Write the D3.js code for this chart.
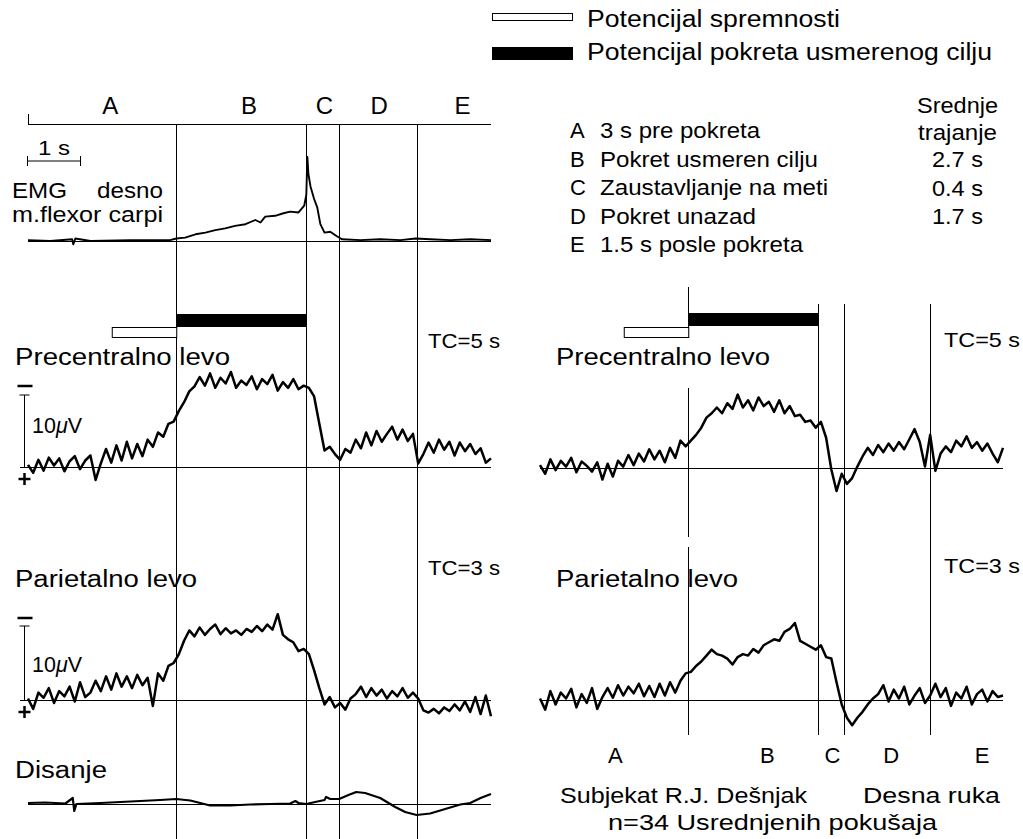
<!DOCTYPE html>
<html>
<head>
<meta charset="utf-8">
<script src="https://cdn.jsdelivr.net/npm/d3@7/dist/d3.min.js"></script>
<style>
    body { margin: 0; background: #fff; }
    svg text { font-family: "Liberation Sans", Arial, sans-serif; fill: #000; }
</style>
</head>
<body>
<svg id="fig" width="1023" height="839"></svg>
<script>
// ======== Data ========
// EEG traces sampled every 0.1 s from -2.85 s to 6.05 s (0 = start of movement), values in uV (negative up)
const t_start = -2.85;
const t_step = 0.1;

const phase_labels = ['A', 'B', 'C', 'D', 'E'];
const phase_label_t_left = [-1.27, 1.40, 2.85, 3.90, 5.50];
const phase_label_t_right = [-1.40, 1.52, 2.77, 3.90, 5.65];

const events_left = [0, 2.5, 3.13, 4.62];
const events_right = [0, 2.5, 3.0, 4.65];

const readiness_bar = [-1.24, 0];   // Potencijal spremnosti
const goal_bar = [0, 2.5];          // Potencijal pokreta usmerenog cilju

const precentral_left = [
    0.3, -0.8, 1.0, -0.5, 1.3, 0.2, 1.2, -0.6, 0.8, 1.5,
    -0.3, 0.9, 1.6, -1.8, 0.5, 2.5, 0.6, 3.0, 0.9, 3.5,
    1.2, 3.2, 1.5, 3.8, 2.8, 4.8, 4.2, 6.0, 6.3, 7.8,
    9.0, 10.5, 11.2, 12.5, 11.3, 13.0, 11.0, 12.4, 11.6, 13.2,
    11.0, 12.0, 11.4, 12.6, 10.8, 12.2, 11.5, 12.8, 10.6, 11.8,
    11.0, 12.2, 10.8, 11.3, 11.0, 9.8, 6.0, 2.3, 2.8, 1.8,
    1.0, 2.5, 2.0, 3.8, 2.6, 4.8, 3.0, 5.0, 3.5, 4.6,
    5.6, 3.8, 5.2, 3.6, 4.6, 0.5, 1.8, 3.4, 2.0, 3.8,
    2.4, 3.5, 1.6, 3.4, 2.2, 3.2, 1.8, 2.6, 0.6, 1.2
];

const parietal_left = [
    0.2, -1.2, 1.0, 0.3, 1.6, -0.4, 1.2, 0.5, 1.8, -0.2,
    2.4, 0.4, 1.0, 2.6, 1.2, 3.2, 1.4, 3.6, 1.8, 3.2,
    1.6, 3.4, 2.0, 3.0, -0.8, 3.6, 2.6, 4.6, 5.0, 6.2,
    8.0, 9.4, 8.6, 9.8, 8.8, 9.6, 10.2, 8.9, 9.7, 9.0,
    9.4, 8.8, 9.6, 9.2, 10.0, 9.3, 10.2, 9.5, 11.6, 8.8,
    8.2, 7.8, 6.6, 6.9, 6.2, 4.0, 1.6, -0.6, 0.4, -1.0,
    -0.4, -1.3, 0.2, 0.8, 1.8, 0.4, 1.6, 0.6, 1.4, 0.2,
    1.2, 0.5, 1.6, 0.3, 1.0, 0.2, -1.4, -1.7, -1.2, -1.8,
    -1.0, -1.5, -0.6, -1.4, -0.2, -1.6, 0.4, -1.9, 0.6, -2.2
];

const precentral_right = [
    0.4, -0.8, 1.2, -0.3, 1.0, 0.2, 1.4, -0.6, 0.9, 0.3,
    -0.5, 0.8, -1.6, 0.6, -1.2, 1.0, 0.2, 1.8, 0.4, 2.0,
    0.9, 2.6, 1.2, 2.4, 0.8, 2.8, 1.4, 3.8, 3.0, 3.8,
    4.6, 5.6, 7.0, 7.6, 8.4, 7.6, 9.0, 8.2, 10.2, 8.4,
    9.4, 8.0, 9.8, 8.6, 9.2, 7.8, 9.4, 7.6, 8.6, 7.2,
    7.4, 6.4, 6.6, 5.6, 6.4, 4.2, -0.2, -3.2, -0.8, -2.2,
    -1.4, 0.2, 1.6, 2.8, 1.8, 3.2, 2.2, 3.4, 2.4, 3.6,
    2.6, 4.0, 5.4, 3.6, 0.2, 4.6, -0.4, 2.0, 3.0, 2.2,
    3.8, 3.0, 4.4, 2.8, 3.6, 2.4, 3.4, 2.0, 0.8, 2.8
];

const parietal_right = [
    0.2, -1.3, 1.2, -0.6, 1.0, 0.2, 1.5, -1.0, 0.8, -0.4,
    1.6, -1.2, 0.4, 1.6, 0.3, 2.0, 0.6, 1.8, 0.9, 2.2,
    0.5, 1.9, 0.4, 2.2, 0.6, 2.4, 1.0, 2.6, 3.6, 3.8,
    4.6, 5.2, 6.0, 6.8, 6.2, 6.0, 5.6, 4.8, 5.8, 6.2,
    6.0, 6.9, 6.4, 7.4, 7.8, 8.2, 8.0, 9.2, 9.6, 10.4,
    8.0, 7.6, 7.2, 6.8, 7.4, 5.8, 5.6, 2.4, -0.6, -2.4,
    -3.4, -2.4, -1.6, -0.6, 0.2, 0.8, 2.0, -0.2, 1.4, 0.2,
    1.8, -0.6, 0.6, 1.6, -0.4, 0.6, 2.2, 0.4, 1.6, -0.8,
    1.0, 0.2, 1.8, -0.6, 0.8, 1.4, -0.2, 1.2, 0.4, 0.6
];

// EMG (relative amplitude, % of peak) and respiration (arbitrary units), irregular sampling
const emg_t = [-2.85, -2.42, -2.0, -1.98, -1.94, -1.65, -0.88, -0.12, 0, 0.17,
    0.37, 0.56, 0.75, 0.94, 1.13, 1.33, 1.52, 1.62, 1.71, 1.9,
    2.06, 2.19, 2.35, 2.46, 2.5, 2.52, 2.54, 2.58, 2.65, 2.71,
    2.77, 2.85, 2.96, 3.08, 3.19, 3.54, 3.92, 4.31, 4.6, 4.88,
    5.27, 5.65, 6.05];
const emg_v = [1, 0, 2, -4, 3, 0, 1, 1, 3, 4,
    8, 10, 13, 15, 18, 20, 25, 22, 29, 30,
    33, 35, 34, 42, 55, 100, 80, 65, 50, 40,
    20, 10, 11, 6, 2, 1, 2, 1, 3, 2,
    1, 2, 1];

const resp_t = [-2.85, -2.52, -2.13, -1.99, -1.96, -1.92, -1.46, -0.88, -0.31, 0,
    0.27, 0.65, 1.04, 1.42, 1.81, 2.19, 2.29, 2.35, 2.5, 2.67,
    2.85, 2.88, 2.96, 3.13, 3.31, 3.46, 3.63, 3.92, 4.21, 4.4,
    4.62, 4.88, 5.17, 5.46, 5.65, 5.77, 5.85, 6.05];
const resp_v = [1, 1.5, 0.5, 6, -7, 0, 1, 2.5, 4, 5,
    3.5, -1.5, -1.5, -0.5, 0, 0.5, 3, 1, 0, 2,
    4, 7, 5, 5, 9, 12, 11, 6, -3, -8,
    -11, -9.5, -5, -0.5, 1, 4, 6, 10];

const durations = ['2.7 s', '0.4 s', '1.7 s'];
const phase_desc = ['3 s pre pokreta', 'Pokret usmeren cilju', 'Zaustavljanje na meti',
    'Pokret unazad', '1.5 s posle pokreta'];

// ======== Setup ========
const svg = d3.select('#fig');

const x_left = d3.scaleLinear().domain([-2.85, 6.05]).range([28, 491]);
const x_right = d3.scaleLinear().domain([-2.85, 6.05]).range([540, 1003]);

const y_emg = d3.scaleLinear().domain([0, 100]).range([241, 157]);
const y_pre_l = d3.scaleLinear().domain([0, 10]).range([467, 395]);
const y_par_l = d3.scaleLinear().domain([0, 10]).range([700, 626]);
const y_resp = d3.scaleLinear().domain([0, 10]).range([804, 794]);
const y_pre_r = d3.scaleLinear().domain([0, 10]).range([468, 396]);
const y_par_r = d3.scaleLinear().domain([0, 10]).range([700, 626]);

function label(x, y, txt, size, len, anchor) {
    let t = svg.append('text')
        .attr('x', x)
        .attr('y', y)
        .attr('font-size', size)
        .attr('text-anchor', anchor || 'start')
        .text(txt);
    if (len) {
        t.attr('textLength', len).attr('lengthAdjust', 'spacingAndGlyphs');
    }
    return t;
}

function hline(x1, x2, y, w) {
    svg.append('line')
        .attr('x1', x1).attr('x2', x2)
        .attr('y1', y).attr('y2', y)
        .attr('stroke', '#000')
        .attr('stroke-width', w || 1);
}

function vline(x, y1, y2, w) {
    svg.append('line')
        .attr('x1', x).attr('x2', x)
        .attr('y1', y1).attr('y2', y2)
        .attr('stroke', '#000')
        .attr('stroke-width', w || 1);
}

function draw_trace(values, x, y, w) {
    let line = d3.line()
        .x(function (d, i) { return x(t_start + i * t_step); })
        .y(function (d) { return y(d); });
    svg.append('path')
        .datum(values)
        .attr('d', line)
        .attr('fill', 'none')
        .attr('stroke', '#000')
        .attr('stroke-width', w)
        .attr('stroke-linejoin', 'round');
}

function draw_trace_xy(ts, vs, x, y, w) {
    let line = d3.line()
        .x(function (d) { return x(d[0]); })
        .y(function (d) { return y(d[1]); });
    svg.append('path')
        .datum(d3.zip(ts, vs))
        .attr('d', line)
        .attr('fill', 'none')
        .attr('stroke', '#000')
        .attr('stroke-width', w)
        .attr('stroke-linejoin', 'round');
}

function bars(x, y_goal, y_ready) {
    svg.append('rect')
        .attr('x', x(readiness_bar[0]) + 0.5)
        .attr('y', y_ready + 0.5)
        .attr('width', x(readiness_bar[1]) - x(readiness_bar[0]))
        .attr('height', 10)
        .attr('fill', '#fff')
        .attr('stroke', '#000');
    svg.append('rect')
        .attr('x', x(goal_bar[0]))
        .attr('y', y_goal)
        .attr('width', x(goal_bar[1]) - x(goal_bar[0]))
        .attr('height', 13)
        .attr('fill', '#000');
}

function polarity(x, y_minus, y_top, y_base) {
    hline(x - 7, x + 8, y_minus, 2.5);
    vline(x, y_top, y_base);
    hline(x - 5, x + 5, y_top);
    hline(x - 6, x + 6, y_base + 12, 2.5);
    vline(x, y_base + 6, y_base + 18, 2.5);
}

// ======== Legend ========
svg.append('rect')
    .attr('x', 492.5).attr('y', 13.5)
    .attr('width', 80).attr('height', 7)
    .attr('fill', '#fff').attr('stroke', '#000');
svg.append('rect')
    .attr('x', 492).attr('y', 47)
    .attr('width', 81).attr('height', 13)
    .attr('fill', '#000');
label(587, 27, 'Potencijal spremnosti', 23, 253);
label(587, 60, 'Potencijal pokreta usmerenog cilju', 23, 405);

// ======== Phase list ========
label(917, 113, 'Srednje', 22, 81);
label(918, 140, 'trajanje', 22, 79);
phase_labels.forEach(function (p, i) {
    label(570, 138 + i * 28.5, p, 22);
    label(600, 138 + i * 28.5, phase_desc[i], 22, [160, 218, 228, 156, 203][i]);
});
durations.forEach(function (d, i) {
    label(932, 167 + i * 28.5, d, 22, 51);
});

// ======== Left column ========
// time line with phases
hline(28, 491, 124.5);
vline(28.5, 114, 125);
phase_labels.forEach(function (p, i) {
    label(x_left(phase_label_t_left[i]), 114, p, 24, null, 'middle');
});
events_left.forEach(function (e) {
    vline(Math.round(x_left(e)) + 0.5, 125, 839);
});

// 1 s scale bar
hline(x_left(t_start) - 1, x_left(t_start + 1), 161);
vline(x_left(t_start) - 0.5, 156, 166);
vline(x_left(t_start + 1) + 0.5, 156, 166);
label(38, 155, '1 s', 20, 32);

// EMG
label(12, 198, 'EMG', 22, 55);
label(97, 198, 'desno', 22, 66);
label(12, 222, 'm.flexor carpi', 22, 151);
hline(28, 491, y_emg(0) + 0.5);
draw_trace_xy(emg_t, emg_v, x_left, y_emg, 1.9);

// Precentral left
bars(x_left, 314, 327);
label(15, 365, 'Precentralno levo', 23, 215);
label(428, 348, 'TC=5 s', 21, 72);
polarity(24.5, 386, y_pre_l(10), y_pre_l(0));
let uv1 = label(32, 433, '10', 22, 50);
uv1.append('tspan').attr('font-style', 'italic').text('\u03bc');
uv1.append('tspan').text('V');
hline(20, 491, y_pre_l(0) + 0.5);
draw_trace(precentral_left, x_left, y_pre_l, 2.5);

// Parietal left
label(15, 587, 'Parietalno levo', 23, 182);
label(428, 575, 'TC=3 s', 21, 72);
polarity(24.5, 618, y_par_l(10), y_par_l(0));
let uv2 = label(32, 672, '10', 22, 50);
uv2.append('tspan').attr('font-style', 'italic').text('\u03bc');
uv2.append('tspan').text('V');
hline(20, 491, y_par_l(0) + 0.5);
draw_trace(parietal_left, x_left, y_par_l, 2.5);

// Respiration
label(15, 778, 'Disanje', 23, 92);
hline(28, 491, y_resp(0) + 0.5);
draw_trace_xy(resp_t, resp_v, x_left, y_resp, 2.2);

// ======== Right column ========
events_right.forEach(function (e, i) {
    let xe = Math.round(x_right(e)) + 0.5;
    if (i === 0) {
        vline(xe, 287, 338);
        vline(xe, 388, 537);
        vline(xe, 547, 735);
    } else {
        vline(xe, 304, 735);
    }
});
bars(x_right, 313, 327);

label(556, 365, 'Precentralno levo', 23, 214);
label(944, 347, 'TC=5 s', 21, 76);
hline(540, 1003, y_pre_r(0) + 0.5);
draw_trace(precentral_right, x_right, y_pre_r, 2.5);

label(556, 587, 'Parietalno levo', 23, 182);
label(944, 573, 'TC=3 s', 21, 76);
hline(540, 1003, y_par_r(0) + 0.5);
draw_trace(parietal_right, x_right, y_par_r, 2.5);

phase_labels.forEach(function (p, i) {
    label(x_right(phase_label_t_right[i]), 763, p, 22, null, 'middle');
});
label(560, 803, 'Subjekat R.J. Dešnjak', 22, 247);
label(863, 803, 'Desna ruka', 22, 137);
label(608, 830, 'n=34  Usrednjenih pokušaja', 22, 329);
</script>
</body>
</html>
